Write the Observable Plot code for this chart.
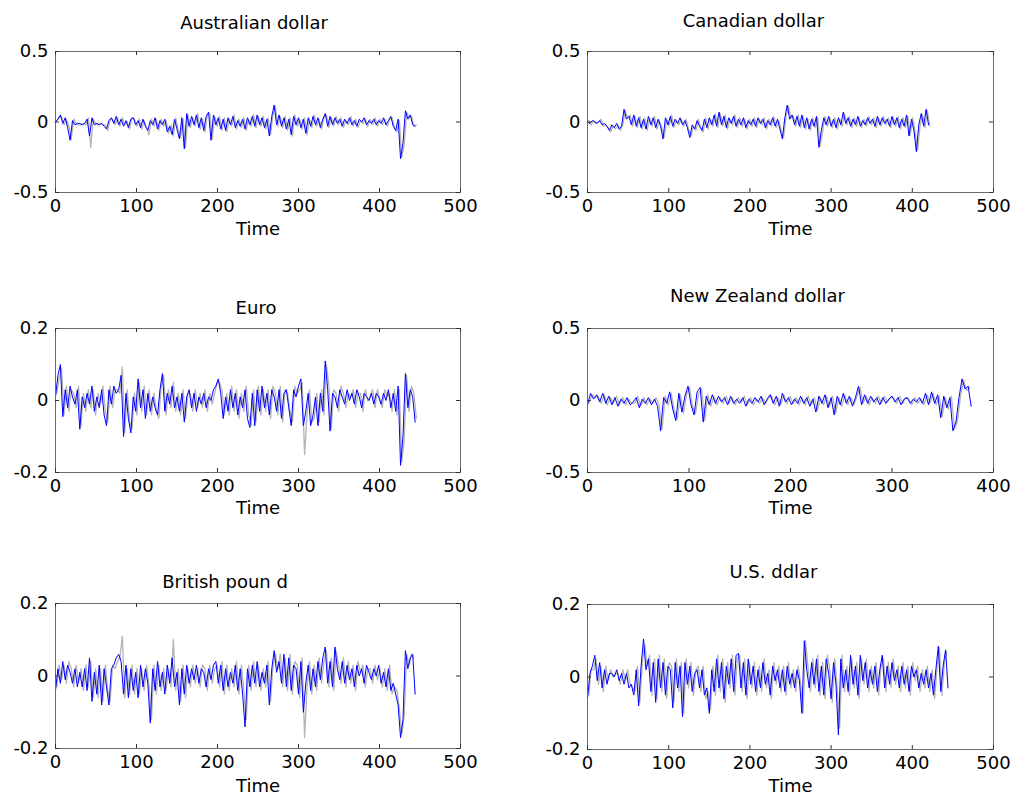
<!DOCTYPE html>
<html><head><meta charset="utf-8">
<script src="https://cdn.jsdelivr.net/npm/d3@7"></script>
<script src="https://cdn.jsdelivr.net/npm/@observablehq/plot@0.6"></script>
<style>
body{margin:0;background:#fff;}
#chart{position:relative;width:1011px;height:795px;background:#fff;overflow:hidden;}
#chart svg{position:absolute;}
</style></head><body><div id="chart"></div>
<script>
// Sampling of the time index: blue every 3rd observation, grey in between
const timeStep = 3;
const greyOffset = 1.5;

const titles = ["Australian dollar", "Canadian dollar", "Euro", "New Zealand dollar", "British poun d", "U.S. ddlar"];
const xTicks500 = [0, 100, 200, 300, 400, 500];
const xTicks400 = [0, 100, 200, 300, 400];
const yTicks05 = [-0.5, 0, 0.5];
const yTicks02 = [-0.2, 0, 0.2];

const audBlue = [0,0.02,0.05,-0.01,0.03,-0.04,-0.13,0.01,-0.02,-0.01,
-0.01,-0.02,-0.01,0.02,-0.1,0.03,-0.02,-0.01,-0.02,-0.01,
-0.03,-0.05,0.01,0.03,-0.01,0.04,-0.02,0.02,-0.03,0.01,
-0.04,0.02,0.03,-0.02,0.01,-0.04,0.02,-0.03,-0.06,0.01,
-0.02,0.03,-0.05,0.01,-0.02,0.02,-0.07,-0.03,-0.09,0.02,
-0.05,-0.12,0.03,-0.19,0.06,-0.03,0.04,-0.02,0.05,-0.04,
0.03,-0.06,0.04,0.07,-0.13,0.05,-0.02,0.03,-0.05,0.02,
-0.06,0.03,-0.02,0.04,-0.04,0.01,-0.03,0.02,-0.05,0.03,
-0.02,0.04,-0.03,0.05,-0.02,0.03,-0.04,0.02,-0.1,0.04,
0.12,-0.02,0.05,-0.03,0.03,-0.05,0.02,-0.09,0.04,-0.02,
0.03,-0.04,0.02,-0.08,0.03,-0.03,0.04,-0.02,0.03,-0.04,
0.02,0.06,-0.03,0.04,-0.02,0.03,-0.01,0.02,-0.03,0.02,
-0.01,0.03,-0.02,0.01,-0.03,0.02,0,0.03,-0.02,0.01,
-0.01,0.02,-0.02,0.01,-0.01,0.03,-0.02,0.01,0.04,-0.03,
-0.06,0.02,-0.26,-0.15,0.08,0.02,0.05,-0.02,-0.03];
const audGrey = [0.01,0.03,0.04,-0.02,0.02,-0.03,-0.12,0.02,-0.01,-0.02,
-0.02,-0.01,-0.02,0.03,-0.18,0.02,-0.01,-0.02,-0.01,-0.02,
-0.02,-0.06,0.02,0.02,-0.02,0.03,-0.03,0.03,-0.02,0,
-0.05,0.03,0.02,-0.03,0.02,-0.05,0.01,-0.04,-0.09,0.02,
-0.03,0.02,-0.06,0.02,-0.03,0.01,-0.08,-0.02,-0.1,0.03,
-0.06,-0.11,0.02,-0.18,0.05,-0.04,0.03,-0.03,0.06,-0.05,
0.02,-0.07,0.05,0.06,-0.12,0.04,-0.03,0.04,-0.06,0.03,
-0.07,0.02,-0.03,0.05,-0.05,0.02,-0.04,0.03,-0.06,0.02,
-0.03,0.05,-0.04,0.04,-0.03,0.04,-0.05,0.03,-0.09,0.05,
0.11,-0.03,0.04,-0.04,0.04,-0.06,0.03,-0.1,0.05,-0.03,
0.02,-0.05,0.03,-0.09,0.02,-0.04,0.05,-0.03,0.02,-0.05,
0.03,0.05,-0.04,0.03,-0.03,0.04,-0.02,0.03,-0.04,0.01,
-0.02,0.04,-0.03,0.02,-0.04,0.01,-0.01,0.02,-0.03,0.02,
-0.02,0.03,-0.03,0.02,-0.02,0.02,-0.03,0.02,0.03,-0.04,
-0.07,0.01,-0.25,-0.16,0.07,0.03,0.04,-0.03,-0.02];

const cadBlue = [0,-0.01,0.01,0,-0.01,0.01,-0.02,-0.01,-0.03,-0.06,
-0.02,-0.04,-0.01,-0.05,-0.03,0.09,0.02,0.04,-0.02,0.05,
-0.03,0.03,-0.04,0.02,-0.05,0.04,-0.02,0.03,-0.04,0.02,
-0.03,-0.12,0.03,-0.02,0.04,-0.03,0.02,-0.01,0.03,-0.02,
0.01,-0.04,-0.11,-0.02,-0.05,0.01,-0.03,-0.06,0.02,-0.04,
0.03,-0.02,0.05,-0.03,0.07,-0.02,0.04,-0.04,0.03,-0.01,
0.04,-0.03,0.02,-0.02,0.03,-0.04,0.01,-0.02,0.02,-0.03,
0.03,-0.01,0.02,-0.04,0.01,-0.02,0.03,-0.03,0.02,-0.05,
-0.12,0.03,0.12,0.02,0.05,-0.02,0.04,-0.03,0.05,-0.04,
0.03,-0.05,0.02,-0.03,0.04,-0.18,-0.06,0.03,-0.02,0.04,
-0.03,0.02,-0.04,0.03,-0.02,0.07,-0.01,0.03,-0.03,0.02,
-0.02,0.04,-0.03,0.01,-0.02,0.03,-0.01,0.02,-0.03,0.04,
-0.02,0.03,-0.01,0.02,-0.03,0.04,-0.02,0.03,-0.04,0.02,
-0.03,0.05,-0.1,0.02,-0.06,-0.21,-0.02,0.06,-0.03,0.09,-0.02];
const cadGrey = [0.01,-0.02,0.01,-0.01,0,0.02,-0.03,-0.02,-0.04,-0.07,
-0.03,-0.05,-0.02,-0.06,-0.02,0.08,0.03,0.05,-0.03,0.04,
-0.04,0.04,-0.05,0.03,-0.06,0.03,-0.03,0.04,-0.05,0.01,
-0.04,-0.11,0.02,-0.03,0.05,-0.04,0.01,-0.02,0.02,-0.03,
0.02,-0.05,-0.1,-0.03,-0.06,0.02,-0.04,-0.07,0.03,-0.05,
0.02,-0.03,0.06,-0.04,0.06,-0.03,0.05,-0.05,0.02,-0.02,
0.05,-0.04,0.03,-0.03,0.02,-0.05,0.02,-0.03,0.03,-0.04,
0.02,-0.02,0.03,-0.05,0.02,-0.03,0.04,-0.04,0.01,-0.06,
-0.11,0.04,0.11,0.03,0.04,-0.03,0.05,-0.04,0.04,-0.05,
0.02,-0.06,0.03,-0.04,0.03,-0.17,-0.07,0.04,-0.03,0.03,
-0.04,0.03,-0.05,0.02,-0.03,0.06,-0.02,0.04,-0.04,0.03,
-0.03,0.03,-0.04,0.02,-0.03,0.04,-0.02,0.03,-0.04,0.03,
-0.03,0.04,-0.02,0.03,-0.04,0.03,-0.03,0.04,-0.05,0.03,
-0.04,0.04,-0.09,0.03,-0.07,-0.2,-0.03,0.05,-0.04,0.08,-0.03];

const eurBlue = [0.01,0.07,0.1,-0.045,0.03,-0.02,0.04,0.01,-0.01,0.03,
-0.08,0.01,-0.02,0.02,-0.01,0.04,-0.03,0.01,-0.02,0.03,
-0.04,-0.07,0.03,-0.01,0.04,0.02,0.03,0.07,-0.1,0.02,
-0.05,-0.09,0.01,-0.03,0.06,-0.02,0.03,-0.05,0.02,-0.03,
0.01,-0.02,-0.04,0.03,0.075,-0.03,0.02,-0.01,0.04,-0.02,
0.01,-0.03,0.02,-0.06,0.01,0.03,-0.02,0.02,-0.03,0.01,
-0.01,0.02,-0.02,0.01,0,0.03,0.04,0.06,0.02,-0.05,
0.01,-0.03,0.03,-0.02,0.02,-0.04,0.01,-0.02,0.03,-0.05,
-0.075,0.02,-0.07,0.03,-0.03,0.04,-0.02,0.02,-0.04,0.03,
0.01,-0.03,0.03,-0.05,0.02,0.03,-0.02,-0.07,0.03,0.01,
0.04,0.06,-0.07,-0.03,0.02,-0.07,-0.04,0.01,-0.07,0.02,
-0.03,0.11,0.03,-0.085,0.02,0.01,-0.02,0.03,0.01,-0.01,
0.03,0,0.02,-0.01,0.03,0.01,-0.02,0.02,0.01,0,
0.02,-0.01,0.02,0.01,-0.01,0.02,0,0.03,-0.02,0.02,
-0.03,0.04,-0.18,-0.1,0.075,-0.02,0.03,0.01,-0.06];
const eurGrey = [0.02,0.06,0.09,-0.04,0.04,-0.03,0.03,0.02,-0.02,0.04,
-0.07,0.02,-0.03,0.03,-0.02,0.03,-0.04,0.02,-0.01,0.04,
-0.03,-0.06,0.04,-0.02,0.03,0.03,0.02,0.093,-0.09,0.03,
-0.06,-0.08,0.02,-0.04,0.05,-0.03,0.04,-0.04,0.03,-0.04,
0.02,-0.03,-0.05,0.04,0.07,-0.04,0.03,-0.02,0.05,-0.03,
0.02,-0.04,0.03,-0.05,0.02,0.02,-0.03,0.03,-0.02,0.02,
-0.02,0.03,-0.03,0.02,-0.01,0.02,0.05,0.05,0.03,-0.04,
0.02,-0.04,0.04,-0.03,0.03,-0.05,0.02,-0.03,0.04,-0.04,
-0.07,0.03,-0.06,0.04,-0.04,0.03,-0.03,0.03,-0.05,0.04,
0.02,-0.04,0.04,-0.06,0.03,0.02,-0.03,-0.06,0.04,0.02,
0.03,0.05,-0.15,-0.04,0.03,-0.06,-0.05,0.02,-0.06,0.03,
-0.04,0.1,0.04,-0.08,0.03,0.02,-0.03,0.04,0.02,-0.02,
0.02,0.01,0.03,-0.02,0.02,0.02,-0.03,0.03,0,0.01,
0.03,-0.02,0.03,0,-0.02,0.03,0.01,0.02,-0.03,0.03,
-0.04,0.03,-0.17,-0.11,0.07,-0.03,0.04,0.02,-0.05];

const nzdBlue = [-0.03,0.05,0.01,0.04,-0.01,0.05,-0.02,0.03,-0.03,0.02,
-0.04,0.01,-0.02,0.02,-0.03,-0.01,0.02,-0.05,0.01,-0.02,
0.02,-0.03,0.01,-0.04,-0.21,0.02,-0.02,0.06,-0.06,-0.14,
0.05,-0.08,0.03,0.1,-0.03,-0.1,0.06,0.09,-0.15,0.03,
-0.03,0.04,-0.02,0.03,-0.01,0.02,-0.03,0.03,-0.02,0.01,
-0.02,0.02,-0.04,0.01,-0.02,0.02,-0.01,0.03,-0.03,0.01,
0.04,-0.02,0.03,-0.04,0.05,-0.01,0.02,-0.03,0.01,-0.02,
0.03,-0.02,0.02,-0.04,0.01,-0.08,0.03,-0.02,0.04,-0.05,
0.02,-0.1,0.03,-0.03,0.05,-0.02,0.03,-0.04,0.02,0.1,
-0.03,0.04,-0.02,0.03,-0.01,0.02,-0.03,0.02,-0.02,0.01,
0.03,-0.01,0.02,-0.03,0.01,0.02,-0.02,0.01,-0.01,0.02,
-0.02,0.05,-0.03,0.06,-0.02,0.04,-0.12,0.03,-0.05,0.02,
-0.21,-0.15,0.02,0.15,0.08,0.1,-0.04];
const nzdGrey = [-0.02,0.04,0.02,0.03,-0.02,0.04,-0.03,0.02,-0.02,0.03,
-0.03,0.02,-0.03,0.01,-0.02,-0.02,0.03,-0.04,0.02,-0.03,
0.01,-0.02,0.02,-0.03,-0.2,0.03,-0.03,0.05,-0.07,-0.13,
0.04,-0.09,0.04,0.09,-0.04,-0.09,0.05,0.08,-0.14,0.04,
-0.04,0.03,-0.03,0.02,-0.02,0.03,-0.02,0.02,-0.03,0.02,
-0.01,0.03,-0.03,0.02,-0.03,0.01,-0.02,0.02,-0.02,0.02,
0.03,-0.03,0.02,-0.03,0.04,-0.02,0.03,-0.02,0.02,-0.03,
0.02,-0.03,0.03,-0.03,0.02,-0.07,0.02,-0.03,0.03,-0.04,
0.03,-0.09,0.02,-0.04,0.04,-0.03,0.02,-0.03,0.03,0.09,
-0.02,0.03,-0.03,0.02,-0.02,0.03,-0.02,0.03,-0.01,0.02,
0.02,-0.02,0.03,-0.02,0.02,0.01,-0.03,0.02,-0.02,0.01,
-0.03,0.04,-0.02,0.05,-0.03,0.03,-0.11,0.02,-0.06,0.03,
-0.2,-0.14,0.03,0.14,0.07,0.09];

const gbpBlue = [-0.04,0.02,-0.02,0.04,-0.01,0.03,0.01,-0.02,0.02,-0.03,
0.01,-0.03,0.02,-0.04,0.05,-0.07,0.01,-0.05,0.03,-0.08,
0.02,-0.03,-0.08,0.02,0.03,0.05,0.06,0.04,-0.05,0.03,
-0.06,0.02,-0.04,0.01,-0.06,0.03,-0.03,0.02,-0.02,-0.13,
0.02,-0.04,0.04,-0.03,0.01,-0.05,0.03,-0.02,0.05,-0.03,
0.01,-0.08,0.02,-0.05,0.03,-0.02,0.02,-0.01,0.03,-0.02,
0.02,0.01,-0.03,0.02,-0.01,0.03,0.04,-0.02,0.03,-0.04,
0.02,-0.03,0.01,-0.02,0.03,-0.04,0.02,-0.05,-0.14,0.02,
-0.03,0.03,-0.02,0.04,-0.03,0.01,-0.02,0.03,-0.08,0.02,
0.07,0.01,0.04,-0.02,0.06,-0.03,0.05,-0.04,0.03,0.02,
-0.05,0.04,-0.1,-0.02,0.03,-0.04,0.02,-0.03,0.04,-0.01,
0.05,0.08,-0.02,0.04,-0.03,0.08,0.02,-0.01,0.04,-0.02,
0.03,-0.01,0.02,-0.03,0.03,0,0.02,-0.02,0.03,0.01,
-0.01,0.02,0,0.03,-0.02,0.01,-0.03,0.02,-0.04,-0.02,
-0.05,-0.08,-0.17,-0.12,0.07,0.02,0.05,0.06,-0.05];
const gbpGrey = [-0.03,0.03,-0.01,0.03,-0.02,0.04,0.02,-0.03,0.03,-0.02,
0.02,-0.04,0.03,-0.03,0.04,-0.06,0.02,-0.06,0.02,-0.07,
0.03,-0.04,-0.07,0.03,0.02,0.04,0.05,0.11,-0.06,0.02,
-0.05,0.03,-0.05,0.02,-0.05,0.02,-0.04,0.03,-0.03,-0.12,
0.03,-0.05,0.03,-0.04,0.02,-0.04,0.02,-0.03,0.1,-0.04,
0.02,-0.07,0.03,-0.06,0.02,-0.03,0.03,-0.02,0.02,-0.03,
0.03,0.02,-0.04,0.03,-0.02,0.02,0.03,-0.03,0.04,-0.05,
0.03,-0.04,0.02,-0.03,0.04,-0.05,0.03,-0.04,-0.12,0.03,
-0.04,0.04,-0.03,0.03,-0.04,0.02,-0.03,0.04,-0.07,0.03,
0.06,0.02,0.06,-0.03,0.05,-0.04,0.06,-0.05,0.04,0.03,
-0.06,0.05,-0.17,-0.03,0.04,-0.05,0.03,-0.04,0.05,-0.02,
0.04,0.07,-0.03,0.05,-0.04,0.07,0.03,-0.02,0.05,-0.03,
0.04,-0.02,0.03,-0.04,0.04,0.01,0.03,-0.03,0.02,0.02,
-0.02,0.03,-0.01,0.02,-0.03,0.02,-0.04,0.03,-0.05,-0.03,
-0.04,-0.09,-0.16,-0.11,0.06,0.03,0.06,0.05];

const usdBlue = [-0.06,0.01,0.03,0.06,-0.01,0.04,-0.03,0.02,-0.02,0.01,
0.01,0,0.02,-0.01,0.01,-0.02,0.01,-0.03,-0.02,-0.05,
0.02,-0.08,0.03,0.105,0.02,0.05,-0.04,0.04,-0.07,0.05,
-0.03,0.04,-0.05,0.03,0.02,-0.085,0.04,-0.03,0.03,-0.11,
0.04,-0.02,0.03,-0.04,0.01,0.02,-0.03,0.02,-0.05,-0.03,
-0.1,0.02,-0.04,0.05,-0.03,0.04,-0.06,0.03,-0.02,0.05,
-0.04,0.06,0.065,-0.03,0.04,-0.05,0.05,-0.02,0.03,-0.04,
0.02,-0.03,0.04,-0.02,0.01,-0.05,0.03,-0.01,0.02,-0.03,
0.02,-0.04,0.03,-0.02,0.01,-0.03,0.02,-0.01,-0.1,0.1,
0.02,-0.03,0.04,-0.02,0.05,-0.04,0.03,-0.05,0.05,0.01,
-0.06,0.04,-0.02,-0.16,0.05,-0.03,0.02,-0.04,0.06,-0.02,
0.03,-0.05,0.06,-0.01,0.04,-0.03,0.02,-0.02,0.03,-0.04,
0.02,0.06,-0.03,0.03,-0.02,0.04,-0.01,0.02,-0.03,0.03,
-0.02,0.02,-0.04,0.03,0,0.02,-0.03,0.01,-0.02,0.02,
-0.03,0.01,-0.05,0.02,0.085,-0.04,0.03,0.075,-0.03];
const usdGrey = [-0.05,0.02,0.02,0.05,-0.02,0.03,-0.04,0.03,-0.01,0.02,
0,0.01,0.01,-0.02,0.02,-0.01,0.02,-0.02,-0.03,-0.04,
0.03,-0.07,0.04,0.09,0.03,0.06,-0.05,0.05,-0.06,0.06,
-0.04,0.05,-0.06,0.04,0.03,-0.07,0.05,-0.04,0.04,-0.1,
0.05,-0.03,0.04,-0.05,0.02,0.03,-0.04,0.03,-0.06,-0.04,
-0.09,0.03,-0.05,0.06,-0.04,0.05,-0.07,0.04,-0.03,0.06,
-0.05,0.05,0.06,-0.04,0.05,-0.06,0.04,-0.03,0.04,-0.05,
0.03,-0.04,0.05,-0.03,0.02,-0.06,0.04,-0.02,0.03,-0.04,
0.03,-0.05,0.04,-0.03,0.02,-0.04,0.03,-0.02,-0.1,0.1,
0.03,-0.04,0.05,-0.03,0.06,-0.05,0.04,-0.06,0.06,0.02,
-0.07,0.05,-0.03,-0.14,0.06,-0.04,0.03,-0.05,0.05,-0.03,
0.04,-0.06,0.05,-0.02,0.05,-0.04,0.03,-0.03,0.04,-0.05,
0.03,0.05,-0.04,0.04,-0.03,0.05,-0.02,0.03,-0.04,0.04,
-0.03,0.03,-0.05,0.04,-0.01,0.03,-0.04,0.02,-0.03,0.03,
-0.04,0.02,-0.06,0.03,0.08,-0.05,0.04,0.07];

// Layout of the six panels (page pixels)
const layout = [
  {left: 0,   top: 0,   mt: 51, mb: 63, mr: 45, titleDx: -4,  titleDy: -28, timeDy: 37},
  {left: 532, top: 0,   mt: 51, mb: 63, mr: 44, titleDx: -37, titleDy: -30, timeDy: 37},
  {left: 0,   top: 277, mt: 51, mb: 60, mr: 45, titleDx: -2,  titleDy: -20, timeDy: 36},
  {left: 532, top: 277, mt: 51, mb: 60, mr: 44, titleDx: -33, titleDy: -32, timeDy: 36},
  {left: 0,   top: 552, mt: 51, mb: 59, mr: 45, titleDx: -33, titleDy: -21, timeDy: 38},
  {left: 532, top: 553, mt: 51, mb: 59, mr: 44, titleDx: -17, titleDy: -32, timeDy: 37}
];

const series = [
  {blue: audBlue, grey: audGrey, yTicks: yTicks05, xTicks: xTicks500},
  {blue: cadBlue, grey: cadGrey, yTicks: yTicks05, xTicks: xTicks500},
  {blue: eurBlue, grey: eurGrey, yTicks: yTicks02, xTicks: xTicks500},
  {blue: nzdBlue, grey: nzdGrey, yTicks: yTicks05, xTicks: xTicks400},
  {blue: gbpBlue, grey: gbpGrey, yTicks: yTicks02, xTicks: xTicks500},
  {blue: usdBlue, grey: usdGrey, yTicks: yTicks02, xTicks: xTicks500}
];

const W = 505, Hs = 255, ML = 55, TICK = 4, FS = 18;
const container = document.getElementById("chart");

series.forEach((s, k) => {
  const L = layout[k];
  const fw = W - ML - L.mr;
  const fh = Hs - L.mt - L.mb;
  const xDomain = [s.xTicks[0], s.xTicks[s.xTicks.length - 1]];
  const yDomain = [s.yTicks[0], s.yTicks[s.yTicks.length - 1]];
  const fmt = d => String(d);
  const svg = Plot.plot({
    width: W, height: Hs,
    marginLeft: ML, marginRight: L.mr, marginTop: L.mt, marginBottom: L.mb,
    style: {fontFamily: "DejaVu Sans, sans-serif", fontSize: FS + "px", color: "#000", background: "transparent", overflow: "visible"},
    x: {domain: xDomain},
    y: {domain: yDomain},
    marks: [
      Plot.line(s.grey, {x: (d, i) => i * timeStep + greyOffset, y: d => d, stroke: "#b3b3b8", strokeWidth: 1.3}),
      Plot.line(s.blue, {x: (d, i) => i * timeStep, y: d => d, stroke: "#0000ff", strokeWidth: 1}),
      Plot.frame({stroke: "#6a6a6a", strokeWidth: 1}),
      Plot.ruleX(s.xTicks, {x: d => d, insetTop: fh - TICK, stroke: "#333"}),
      Plot.ruleX(s.xTicks, {x: d => d, insetBottom: fh - TICK, stroke: "#333"}),
      Plot.ruleY(s.yTicks, {y: d => d, insetRight: fw - TICK, stroke: "#333"}),
      Plot.ruleY(s.yTicks, {y: d => d, insetLeft: fw - TICK, stroke: "#333"}),
      Plot.axisX({ticks: s.xTicks, tickSize: 0, tickPadding: 7, tickFormat: fmt, label: null, fontSize: FS}),
      Plot.axisY({ticks: s.yTicks, tickSize: 0, tickPadding: 7, tickFormat: fmt, label: null, fontSize: FS}),
      Plot.text([titles[k]], {text: d => d, frameAnchor: "top", lineAnchor: "middle", dx: L.titleDx, dy: L.titleDy, fontSize: FS, fill: "#000"}),
      Plot.text(["Time"], {text: d => d, frameAnchor: "bottom", lineAnchor: "middle", dy: L.timeDy, fontSize: FS, fill: "#000"})
    ]
  });
  svg.style.left = L.left + "px";
  svg.style.top = L.top + "px";
  container.appendChild(svg);
});
</script></body></html>
